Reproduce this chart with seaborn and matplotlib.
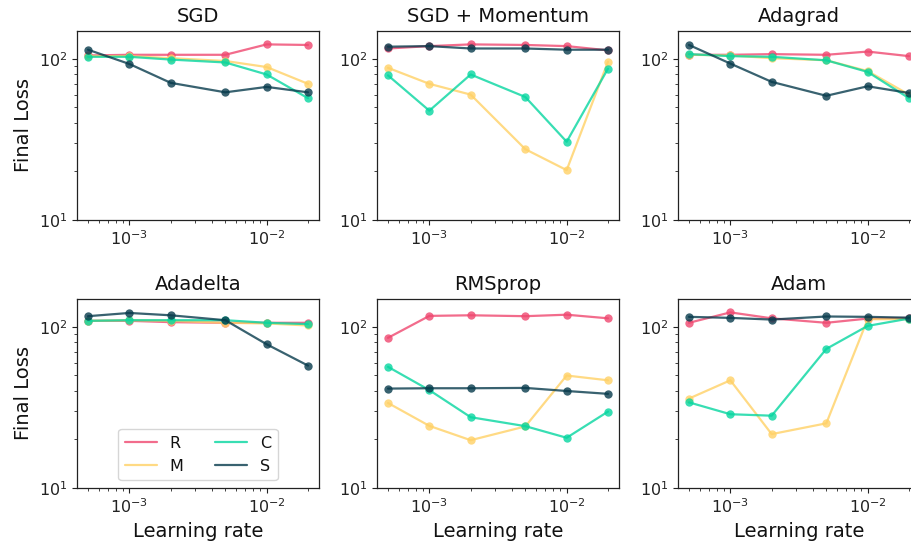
import numpy as np
import pandas as pd
import matplotlib
matplotlib.use("Agg")
import matplotlib.pyplot as plt
import seaborn as sns
from matplotlib.lines import Line2D

learning_rates = [5e-4, 1e-3, 2e-3, 5e-3, 1e-2, 2e-2]
optimizers = ["SGD", "SGD + Momentum", "Adagrad", "Adadelta", "RMSprop", "Adam"]
series_names = ["R", "M", "C", "S"]
series_colors = ["#ef476f", "#ffd166", "#06d6a0", "#073b4c"]

sgd_R = [105, 106, 106, 106, 123, 122]
sgd_M = [104, 104, 101, 97, 89, 70]
sgd_C = [103, 103, 99, 95, 80, 57]
sgd_S = [114, 93, 71, 62, 67, 62]

mom_R = [116, 120, 123, 122, 120, 113]
mom_M = [88, 70, 60, 27.5, 20.4, 96]
mom_C = [79, 47.7, 80, 58, 30.6, 87]
mom_S = [119, 120, 116, 116, 114, 114]

adagrad_R = [106, 106, 107, 106, 111, 104]
adagrad_M = [106, 105, 101, 98, 84, 60]
adagrad_C = [107, 104, 103, 98, 83, 57]
adagrad_S = [122, 93.5, 72, 59, 67.6, 61.4]

adadelta_R = [109, 109, 107, 106, 106, 106]
adadelta_M = [109, 110, 109, 106, 105, 102]
adadelta_C = [109, 110, 110, 110, 106, 104]
adadelta_S = [116.5, 122, 118, 110, 78, 57.5]

rmsprop_R = [85.5, 117, 118, 116.5, 119, 113]
rmsprop_M = [33.7, 24.3, 19.8, 24.1, 49.9, 46.6]
rmsprop_C = [56.5, 40.5, 27.5, 24.2, 20.5, 29.8]
rmsprop_S = [41.4, 41.6, 41.6, 41.8, 40.0, 38.4]

adam_R = [106, 123, 113, 106, 112.6, 113.7]
adam_M = [35.9, 46.6, 21.6, 25.2, 111.6, 111.6]
adam_C = [34, 28.7, 28.1, 73, 101.4, 112.6]
adam_S = [115.4, 113.7, 111, 116, 115.4, 114]

results = {
    "SGD": [sgd_R, sgd_M, sgd_C, sgd_S],
    "SGD + Momentum": [mom_R, mom_M, mom_C, mom_S],
    "Adagrad": [adagrad_R, adagrad_M, adagrad_C, adagrad_S],
    "Adadelta": [adadelta_R, adadelta_M, adadelta_C, adadelta_S],
    "RMSprop": [rmsprop_R, rmsprop_M, rmsprop_C, rmsprop_S],
    "Adam": [adam_R, adam_M, adam_C, adam_S],
}

rows = []
for opt in optimizers:
    for name, vals in zip(series_names, results[opt]):
        for lr, v in zip(learning_rates, vals):
            rows.append({"optimizer": opt, "series": name, "lr": lr, "loss": v})
df = pd.DataFrame(rows)

sns.set_style("ticks")
plt.rcParams.update({
    "axes.edgecolor": "#222222",
    "axes.linewidth": 0.9,
    "xtick.major.size": 3.5,
    "ytick.major.size": 3.5,
    "xtick.minor.size": 2,
    "ytick.minor.size": 2,
    "xtick.major.width": 0.8,
    "ytick.major.width": 0.8,
    "xtick.minor.width": 0.6,
    "ytick.minor.width": 0.6,
    "xtick.color": "#222222",
    "ytick.color": "#222222",
    "text.color": "#111111",
    "axes.labelcolor": "#111111",
})
plt.rcParams["font.family"] = ["DejaVu Sans"]

fig, axes = plt.subplots(2, 3, figsize=(9.12, 5.51), dpi=100)
palette = dict(zip(series_names, series_colors))

lefts = [77 / 912, 377 / 912, 678 / 912]
bottoms = [1 - 220 / 551, 1 - 488 / 551]
w = 242 / 912
h = 189.5 / 551

for i, opt in enumerate(optimizers):
    r, c = divmod(i, 3)
    ax = axes[r, c]
    ax.set_position([lefts[c], bottoms[r], w, h])
    sub = df[df["optimizer"] == opt]
    sns.lineplot(data=sub, x="lr", y="loss", hue="series", palette=palette,
                 hue_order=series_names, marker="o", markersize=6,
                 markeredgewidth=0, linewidth=1.6, alpha=0.8, ax=ax,
                 legend=False)
    ax.set_xscale("log")
    ax.set_yscale("log")
    ax.set_ylim(10, 150)
    ax.set_title(opt, fontsize=14)
    ax.tick_params(axis="both", which="major", labelsize=11.5)
    ax.set_xlabel("Learning rate" if r == 1 else "", fontsize=14)
    ax.set_ylabel("Final Loss" if c == 0 else "", fontsize=14)
    for s in ax.spines.values():
        s.set_visible(True)

handles = [Line2D([0], [0], color=col, lw=1.6, alpha=0.8) for col in series_colors]
axes[1, 0].legend(handles, series_names, loc="lower center", ncol=2,
                  fontsize=11.5, frameon=True, columnspacing=2.0)

fig.savefig("out.png", dpi=100)
